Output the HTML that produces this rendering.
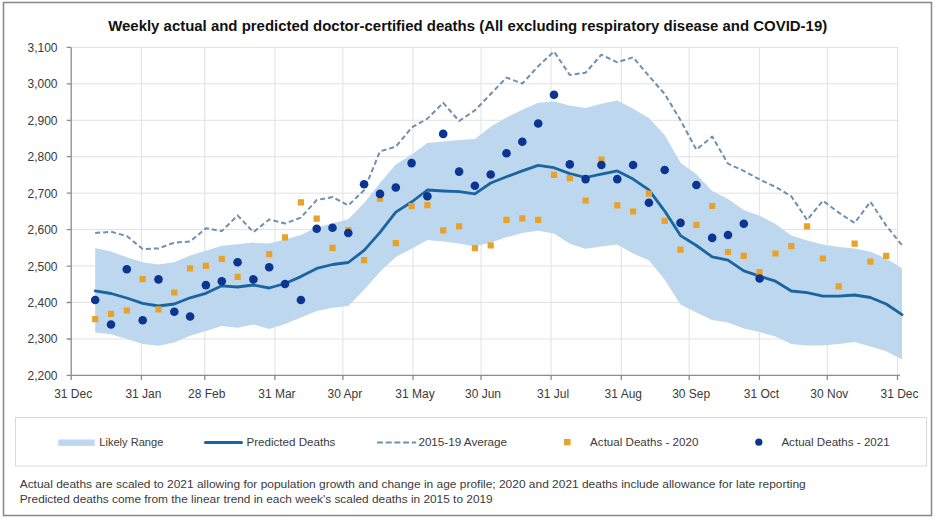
<!DOCTYPE html>
<html><head><meta charset="utf-8"><style>
html,body{margin:0;padding:0;background:#fff;width:935px;height:519px;overflow:hidden}
svg{display:block}
text{font-family:"Liberation Sans",sans-serif}
.ax{font-size:12px;fill:#3a3a3a}
.title{font-size:15px;font-weight:bold;fill:#111}
.lg{font-size:11.6px;fill:#3a3a3a}
.fn{font-size:11.2px;fill:#3a3a3a}
</style></head><body>
<svg width="935" height="519" viewBox="0 0 935 519">
<rect x="3.5" y="2.5" width="928" height="513" fill="#fff" stroke="#8c8c8c" stroke-width="1.6"/>
<path d="M71.2,47.4H898.5 M71.2,83.8H898.5 M71.2,120.3H898.5 M71.2,156.7H898.5 M71.2,193.2H898.5 M71.2,229.6H898.5 M71.2,266.1H898.5 M71.2,302.5H898.5 M71.2,339H898.5 M141.4,47.4V375.4 M204.8,47.4V375.4 M274.9,47.4V375.4 M342.9,47.4V375.4 M413,47.4V375.4 M481,47.4V375.4 M551.1,47.4V375.4 M621.3,47.4V375.4 M689.2,47.4V375.4 M759.4,47.4V375.4 M827.3,47.4V375.4 M897.5,47.4V375.4" stroke="#e2e2e2" stroke-width="1" fill="none"/>
<polygon points="95.2,248.1 111,251.4 126.8,257.3 142.7,262.2 158.5,264.5 174.3,262.2 190.1,255.6 205.9,250.7 221.8,245.8 237.6,244.2 253.4,242.6 269.2,243.5 285,239.6 300.9,235 316.7,227.5 332.5,223.2 348.3,219.3 364.1,202.9 380,183 395.8,164.4 411.6,154.6 427.4,143.1 443.2,141.5 459.1,140 474.9,138.9 490.7,126.7 506.5,117.6 522.3,109.7 538.2,102.8 554,101.5 569.8,105.5 585.6,108.1 601.4,103.8 617.3,100.6 633.1,108.7 648.9,117.9 664.7,134.9 680.5,162.7 696.4,174.2 712.2,191 728,199 743.8,210 759.6,215.8 775.5,224 791.3,235.5 807.1,240.4 822.9,244.6 838.7,246.9 854.6,248.6 870.4,251.8 886.2,258.4 902,268.2 902,359.5 886.2,351.3 870.4,346.4 854.6,342.1 838.7,344.1 822.9,345.4 807.1,345.4 791.3,344.1 775.5,336.6 759.6,332 743.8,328.5 728,322.4 712.2,320.1 696.4,312.6 680.5,304.4 664.7,279.8 648.9,260.2 633.1,253.6 617.3,244.5 601.4,246.4 585.6,248.7 569.8,243.8 554,233.4 538.2,230.7 522.3,233 506.5,237.3 490.7,242.5 474.9,246.5 459.1,243.4 443.2,241.6 427.4,239.9 411.6,248.7 395.8,256.9 380,271.7 364.1,289.7 348.3,306 332.5,307.7 316.7,310.9 300.9,317.5 285,324 269.2,328.9 253.4,324.4 237.6,327.7 221.8,326 205.9,330.9 190.1,335.8 174.3,342.4 158.5,345.7 142.7,344 126.8,339.1 111,334.2 95.2,332.5" fill="#bdd7ee"/>
<polyline points="95.2,233 111,231.8 126.8,236 142.7,249.1 158.5,248.4 174.3,242.6 190.1,241.6 205.9,228.2 221.8,231.1 237.6,215.4 253.4,232.1 269.2,219.5 285,223.5 300.9,217.6 316.7,200 332.5,197.1 348.3,205.4 364.1,190.2 380,151.3 395.8,146.7 411.6,127.7 427.4,118.6 443.2,102.8 459.1,121 474.9,110.4 490.7,94 506.5,77.6 522.3,83.5 538.2,66.2 554,51.5 569.8,75 585.6,72.7 601.4,54.7 617.3,62.3 633.1,57.3 648.9,76 664.7,94 680.5,120.2 696.4,149.7 712.2,136.6 728,163.7 743.8,170.9 759.6,179.5 775.5,186.9 791.3,196.3 807.1,220 822.9,200.7 838.7,212.6 854.6,223 870.4,201.8 886.2,225.6 902,245.3" fill="none" stroke="#6f91b0" stroke-width="2" stroke-dasharray="5,3" stroke-linejoin="round"/>
<polyline points="95.2,290.8 111,293.5 126.8,298 142.7,303.3 158.5,306 174.3,304 190.1,297.8 205.9,293.3 221.8,285.8 237.6,287 253.4,285 269.2,288 285,283.5 300.9,276.6 316.7,268.4 332.5,264.5 348.3,262.5 364.1,250.4 380,232.4 395.8,212.1 411.6,202 427.4,190 443.2,191 459.1,191.7 474.9,193.8 490.7,183 506.5,176.8 522.3,170.9 538.2,165.4 554,167.7 569.8,173.6 585.6,177.5 601.4,174.2 617.3,170.9 633.1,179.1 648.9,189.8 664.7,211.1 680.5,235.6 696.4,245.5 712.2,256.9 728,260.2 743.8,270.9 759.6,276.2 775.5,281.2 791.3,291 807.1,292.6 822.9,296.1 838.7,296.1 854.6,295 870.4,297.5 886.2,304 902,314.7" fill="none" stroke="#1a64a0" stroke-width="2.8" stroke-linejoin="round" stroke-linecap="round"/>
<path d="M71.2,47.4V375.4 M71.2,375.4H900 M66.7,47.4H71.2 M66.7,83.8H71.2 M66.7,120.3H71.2 M66.7,156.7H71.2 M66.7,193.2H71.2 M66.7,229.6H71.2 M66.7,266.1H71.2 M66.7,302.5H71.2 M66.7,339H71.2 M66.7,375.4H71.2 M71.2,375.4V379.9 M141.4,375.4V379.9 M204.8,375.4V379.9 M274.9,375.4V379.9 M342.9,375.4V379.9 M413,375.4V379.9 M481,375.4V379.9 M551.1,375.4V379.9 M621.3,375.4V379.9 M689.2,375.4V379.9 M759.4,375.4V379.9 M827.3,375.4V379.9 M897.5,375.4V379.9" stroke="#8c8c8c" stroke-width="1.3" fill="none"/>
<path d="M92.1,316.1h6.2v6.2h-6.2zM107.9,310.7h6.2v6.2h-6.2zM123.7,307.4h6.2v6.2h-6.2zM139.6,276.1h6.2v6.2h-6.2zM155.4,306.2h6.2v6.2h-6.2zM171.2,289.4h6.2v6.2h-6.2zM187,265.3h6.2v6.2h-6.2zM202.8,262.7h6.2v6.2h-6.2zM218.7,255.8h6.2v6.2h-6.2zM234.5,273.8h6.2v6.2h-6.2zM250.3,276.9h6.2v6.2h-6.2zM266.1,251h6.2v6.2h-6.2zM281.9,234.2h6.2v6.2h-6.2zM297.8,199.2h6.2v6.2h-6.2zM313.6,215.5h6.2v6.2h-6.2zM329.4,244.7h6.2v6.2h-6.2zM345.2,226.9h6.2v6.2h-6.2zM361,257.1h6.2v6.2h-6.2zM376.9,195.6h6.2v6.2h-6.2zM392.7,240.1h6.2v6.2h-6.2zM408.5,203.1h6.2v6.2h-6.2zM424.3,202.1h6.2v6.2h-6.2zM440.1,227.3h6.2v6.2h-6.2zM456,223.2h6.2v6.2h-6.2zM471.8,245.1h6.2v6.2h-6.2zM487.6,242.3h6.2v6.2h-6.2zM503.4,216.8h6.2v6.2h-6.2zM519.2,215.2h6.2v6.2h-6.2zM535.1,216.8h6.2v6.2h-6.2zM550.9,171.8h6.2v6.2h-6.2zM566.7,175.1h6.2v6.2h-6.2zM582.5,197.4h6.2v6.2h-6.2zM598.3,156.4h6.2v6.2h-6.2zM614.2,202.2h6.2v6.2h-6.2zM630,208.4h6.2v6.2h-6.2zM645.8,190.6h6.2v6.2h-6.2zM661.6,217.8h6.2v6.2h-6.2zM677.4,246.6h6.2v6.2h-6.2zM693.3,221.7h6.2v6.2h-6.2zM709.1,202.9h6.2v6.2h-6.2zM724.9,248.9h6.2v6.2h-6.2zM740.7,252.7h6.2v6.2h-6.2zM756.5,269.1h6.2v6.2h-6.2zM772.4,250.4h6.2v6.2h-6.2zM788.2,243.1h6.2v6.2h-6.2zM804,223.3h6.2v6.2h-6.2zM819.8,255.4h6.2v6.2h-6.2zM835.6,283.2h6.2v6.2h-6.2zM851.5,240.5h6.2v6.2h-6.2zM867.3,258.6h6.2v6.2h-6.2zM883.1,252.7h6.2v6.2h-6.2z" fill="#e9a227"/>
<circle cx="95.2" cy="300" r="4.3" fill="#0b3591"/>
<circle cx="111" cy="324.5" r="4.3" fill="#0b3591"/>
<circle cx="126.8" cy="269.2" r="4.3" fill="#0b3591"/>
<circle cx="142.7" cy="320.2" r="4.3" fill="#0b3591"/>
<circle cx="158.5" cy="279.4" r="4.3" fill="#0b3591"/>
<circle cx="174.3" cy="311.7" r="4.3" fill="#0b3591"/>
<circle cx="190.1" cy="316.5" r="4.3" fill="#0b3591"/>
<circle cx="205.9" cy="285.1" r="4.3" fill="#0b3591"/>
<circle cx="221.8" cy="281.2" r="4.3" fill="#0b3591"/>
<circle cx="237.6" cy="262.2" r="4.3" fill="#0b3591"/>
<circle cx="253.4" cy="279.4" r="4.3" fill="#0b3591"/>
<circle cx="269.2" cy="267.3" r="4.3" fill="#0b3591"/>
<circle cx="285" cy="284" r="4.3" fill="#0b3591"/>
<circle cx="300.9" cy="300" r="4.3" fill="#0b3591"/>
<circle cx="316.7" cy="228.8" r="4.3" fill="#0b3591"/>
<circle cx="332.5" cy="227.8" r="4.3" fill="#0b3591"/>
<circle cx="348.3" cy="233" r="4.3" fill="#0b3591"/>
<circle cx="364.1" cy="184.3" r="4.3" fill="#0b3591"/>
<circle cx="380" cy="193.9" r="4.3" fill="#0b3591"/>
<circle cx="395.8" cy="187.5" r="4.3" fill="#0b3591"/>
<circle cx="411.6" cy="163.1" r="4.3" fill="#0b3591"/>
<circle cx="427.4" cy="196.2" r="4.3" fill="#0b3591"/>
<circle cx="443.2" cy="133.9" r="4.3" fill="#0b3591"/>
<circle cx="459.1" cy="171.6" r="4.3" fill="#0b3591"/>
<circle cx="474.9" cy="185.8" r="4.3" fill="#0b3591"/>
<circle cx="490.7" cy="174.5" r="4.3" fill="#0b3591"/>
<circle cx="506.5" cy="153.3" r="4.3" fill="#0b3591"/>
<circle cx="522.3" cy="141.8" r="4.3" fill="#0b3591"/>
<circle cx="538.2" cy="123.5" r="4.3" fill="#0b3591"/>
<circle cx="554" cy="94.8" r="4.3" fill="#0b3591"/>
<circle cx="569.8" cy="164.4" r="4.3" fill="#0b3591"/>
<circle cx="585.6" cy="179.1" r="4.3" fill="#0b3591"/>
<circle cx="601.4" cy="165" r="4.3" fill="#0b3591"/>
<circle cx="617.3" cy="179.1" r="4.3" fill="#0b3591"/>
<circle cx="633.1" cy="165" r="4.3" fill="#0b3591"/>
<circle cx="648.9" cy="202.8" r="4.3" fill="#0b3591"/>
<circle cx="664.7" cy="170" r="4.3" fill="#0b3591"/>
<circle cx="680.5" cy="222.9" r="4.3" fill="#0b3591"/>
<circle cx="696.4" cy="185" r="4.3" fill="#0b3591"/>
<circle cx="712.2" cy="237.9" r="4.3" fill="#0b3591"/>
<circle cx="728" cy="235" r="4.3" fill="#0b3591"/>
<circle cx="743.8" cy="223.8" r="4.3" fill="#0b3591"/>
<circle cx="759.6" cy="278.5" r="4.3" fill="#0b3591"/>
<text x="57.5" y="51.8" text-anchor="end" class="ax">3,100</text>
<text x="57.5" y="88.2" text-anchor="end" class="ax">3,000</text>
<text x="57.5" y="124.7" text-anchor="end" class="ax">2,900</text>
<text x="57.5" y="161.1" text-anchor="end" class="ax">2,800</text>
<text x="57.5" y="197.6" text-anchor="end" class="ax">2,700</text>
<text x="57.5" y="234" text-anchor="end" class="ax">2,600</text>
<text x="57.5" y="270.5" text-anchor="end" class="ax">2,500</text>
<text x="57.5" y="306.9" text-anchor="end" class="ax">2,400</text>
<text x="57.5" y="343.4" text-anchor="end" class="ax">2,300</text>
<text x="57.5" y="379.8" text-anchor="end" class="ax">2,200</text>
<text x="73.2" y="397.8" text-anchor="middle" class="ax">31 Dec</text>
<text x="143.4" y="397.8" text-anchor="middle" class="ax">31 Jan</text>
<text x="206.8" y="397.8" text-anchor="middle" class="ax">28 Feb</text>
<text x="276.9" y="397.8" text-anchor="middle" class="ax">31 Mar</text>
<text x="344.9" y="397.8" text-anchor="middle" class="ax">30 Apr</text>
<text x="415" y="397.8" text-anchor="middle" class="ax">31 May</text>
<text x="483" y="397.8" text-anchor="middle" class="ax">30 Jun</text>
<text x="553.1" y="397.8" text-anchor="middle" class="ax">31 Jul</text>
<text x="623.3" y="397.8" text-anchor="middle" class="ax">31 Aug</text>
<text x="691.2" y="397.8" text-anchor="middle" class="ax">30 Sep</text>
<text x="761.4" y="397.8" text-anchor="middle" class="ax">31 Oct</text>
<text x="829.3" y="397.8" text-anchor="middle" class="ax">30 Nov</text>
<text x="899.5" y="397.8" text-anchor="middle" class="ax">31 Dec</text>
<text x="467.7" y="30.7" text-anchor="middle" class="title" textLength="719" lengthAdjust="spacingAndGlyphs">Weekly actual and predicted doctor-certified deaths (All excluding respiratory disease and COVID-19)</text>
<rect x="15.5" y="417.5" width="911" height="48.5" fill="none" stroke="#d9d9d9" stroke-width="1"/>
<rect x="58.3" y="439.5" width="36.4" height="6.4" fill="#bdd7ee"/>
<text x="99.3" y="446.4" class="lg" textLength="64" lengthAdjust="spacingAndGlyphs">Likely Range</text>
<path d="M205.5,442.5H241.5" stroke="#1a64a0" stroke-width="3" stroke-linecap="round"/>
<text x="246.4" y="446.4" class="lg" textLength="89" lengthAdjust="spacingAndGlyphs">Predicted Deaths</text>
<path d="M377,442.4H416" stroke="#6f91b0" stroke-width="2" stroke-dasharray="6,2.7"/>
<text x="418.4" y="446.4" class="lg" textLength="88.7" lengthAdjust="spacingAndGlyphs">2015-19 Average</text>
<rect x="564" y="439" width="6.6" height="6.2" fill="#e9a227"/>
<text x="590.1" y="446.4" class="lg" textLength="108.3" lengthAdjust="spacingAndGlyphs">Actual Deaths - 2020</text>
<circle cx="758.8" cy="442.2" r="3.6" fill="#0b3591"/>
<text x="781.4" y="446.4" class="lg" textLength="108.3" lengthAdjust="spacingAndGlyphs">Actual Deaths - 2021</text>
<text x="19.7" y="487.5" class="fn" textLength="786" lengthAdjust="spacingAndGlyphs">Actual deaths are scaled to 2021 allowing for population growth and change in age profile; 2020 and 2021 deaths include allowance for late reporting</text>
<text x="19.7" y="502.9" class="fn" textLength="473" lengthAdjust="spacingAndGlyphs">Predicted deaths come from the linear trend in each week's scaled deaths in 2015 to 2019</text>
</svg>
</body></html>
